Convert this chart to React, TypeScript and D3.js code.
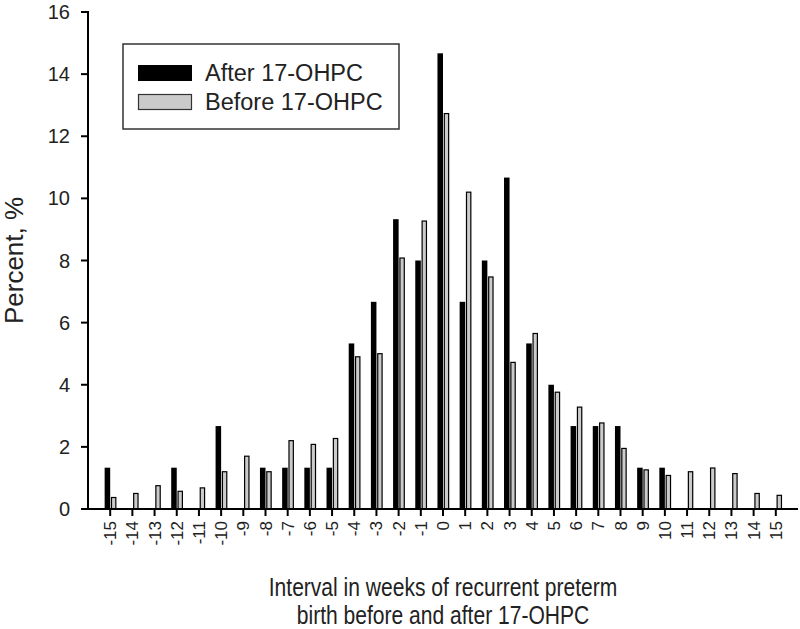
import React from "react";
import * as d3 from "d3";

const weeks = [-15,-14,-13,-12,-11,-10,-9,-8,-7,-6,-5,-4,-3,-2,-1,0,1,2,3,4,5,6,7,8,9,10,11,12,13,14,15];
const afterValues = [1.33,0,0,1.33,0,2.67,0,1.33,1.33,1.33,1.33,5.33,6.67,9.33,8.0,14.67,6.67,8.0,10.67,5.33,4.0,2.67,2.67,2.67,1.33,1.33,0,0,0,0,0];
const beforeValues = [0.37,0.5,0.75,0.57,0.68,1.2,1.7,1.2,2.2,2.08,2.27,4.9,5.0,8.08,9.27,12.73,10.2,7.47,4.72,5.65,3.76,3.28,2.77,1.95,1.26,1.08,1.2,1.32,1.14,0.5,0.44];
const yTicks = [0,2,4,6,8,10,12,14,16];
const seriesNames = ["After 17-OHPC", "Before 17-OHPC"];
const xTitle = ["Interval in weeks of recurrent preterm", "birth before and after 17-OHPC"];
const yTitle = "Percent, %";

const FONT = "'Liberation Sans', Arial, Helvetica, sans-serif";
const W = 800, H = 629;
const left = 88, right = 798, top = 12, bottom = 509;

export default function App() {
  const x = d3.scaleLinear().domain([-16, 16]).range([left, right]);
  const y = d3.scaleLinear().domain([0, 16]).range([bottom, top]);
  const step = x(1) - x(0);
  const bw = step * 0.25;

  return (
    <svg width={W} height={H} style={{ position: "absolute", left: 0, top: 0, display: "block", background: "#fff" }}>
      <rect x={0} y={0} width={W} height={H} fill="#fff" />
      {weeks.map((w, i) => (
        <g key={w}>
          {afterValues[i] > 0 && (
            <rect x={x(w) - bw} y={y(afterValues[i])} width={bw} height={y(0) - y(afterValues[i])} fill="#000" />
          )}
          {beforeValues[i] > 0 && (
            <rect x={x(w) + 1.3} y={y(beforeValues[i])} width={bw - 1.2} height={y(0) - y(beforeValues[i])}
              fill="#cbcbcb" stroke="#000" strokeWidth={1.2} />
          )}
        </g>
      ))}
      <line x1={left} x2={left} y1={top - 1} y2={bottom + 1} stroke="#000" strokeWidth={2} />
      {yTicks.map((t) => (
        <g key={t}>
          <line x1={left - 7} x2={left} y1={y(t)} y2={y(t)} stroke="#000" strokeWidth={2} />
          <text x={70} y={y(t) + 7} textAnchor="end" fontFamily={FONT} fontSize={20} fill="#222">{t}</text>
        </g>
      ))}
      <line x1={left} x2={right} y1={bottom} y2={bottom} stroke="#000" strokeWidth={2} />
      {weeks.map((w) => (
        <g key={"t" + w}>
          <line x1={x(w)} x2={x(w)} y1={bottom} y2={bottom + 7} stroke="#000" strokeWidth={2} />
          <text transform={`translate(${x(w) + 6},${521}) rotate(-90)`} textAnchor="end"
            fontFamily={FONT} fontSize={17} fill="#222">{w}</text>
        </g>
      ))}
      <text transform={`translate(23,${(top + bottom) / 2}) rotate(-90)`} textAnchor="middle"
        fontFamily={FONT} fontSize={26} fill="#222">{yTitle}</text>
      {xTitle.map((line, i) => (
        <text key={i} transform={`translate(${(left + right) / 2},${596 + i * 28}) scale(0.81,1)`} textAnchor="middle"
          fontFamily={FONT} fontSize={26} fill="#222">{line}</text>
      ))}
      <rect x={123} y={44} width={276} height={85} fill="#fff" stroke="#333" strokeWidth={1.5} />
      <rect x={138} y={65} width={54} height={16} fill="#000" />
      <rect x={138.5} y={94.5} width={53} height={15} fill="#cbcbcb" stroke="#333" strokeWidth={1.2} />
      <text x={205} y={81} fontFamily={FONT} fontSize={23.5} fill="#222">{seriesNames[0]}</text>
      <text x={205} y={110} fontFamily={FONT} fontSize={23.5} fill="#222">{seriesNames[1]}</text>
    </svg>
  );
}
